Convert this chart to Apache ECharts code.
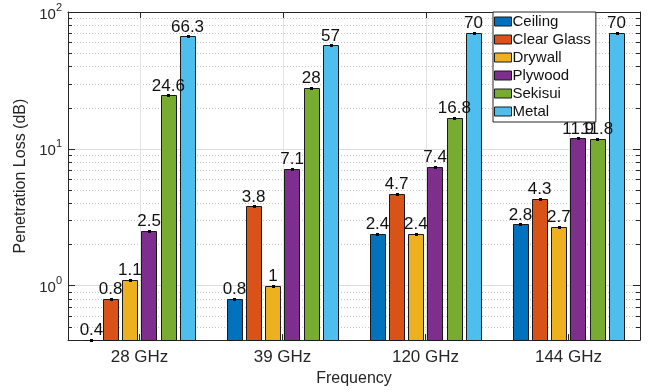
<!DOCTYPE html>
<html><head><meta charset="utf-8">
<script src="https://cdn.jsdelivr.net/npm/echarts@6/dist/echarts.min.js"></script>
<style>html,body{margin:0;padding:0;background:#fff}#c{width:660px;height:392px}</style>
</head><body><div id="c"></div>
<script>
const categories = ['28 GHz', '39 GHz', '120 GHz', '144 GHz'];
const ceiling = [0.4, 0.8, 2.4, 2.8];
const clearGlass = [0.8, 3.8, 4.7, 4.3];
const drywall = [1.1, 1, 2.4, 2.7];
const plywood = [2.5, 7.1, 7.4, 11.9];
const sekisui = [24.6, 28, 16.8, 11.8];
const metal = [66.3, 57, 70, 70];
const seriesNames = ['Ceiling', 'Clear Glass', 'Drywall', 'Plywood', 'Sekisui', 'Metal'];
const seriesColors = ['#0072BD', '#D95319', '#EDB120', '#7E2F8E', '#77AC30', '#4DBEEE'];
const minorValues = [0.5, 0.6, 0.7, 0.8, 0.9, 2, 3, 4, 5, 6, 7, 8, 9, 20, 30, 40, 50, 60, 70, 80, 90];
const yMin = 0.4, yMax = 100;

const FONT = '"Liberation Sans", Arial, Helvetica, sans-serif';
const TXT = '#262626';
const EDGE = '#1a1a1a';
const chart = echarts.init(document.getElementById('c'));
const allData = [ceiling, clearGlass, drywall, plywood, sekisui, metal];
const nSeries = seriesNames.length;
const catGap = 0.22, barGapRatio = 0.24;

function makeBarSeries(i) {
  return {
    name: seriesNames[i], type: 'custom', xAxisIndex: 0, yAxisIndex: 0, z: 3, silent: true,
    itemStyle: { color: seriesColors[i], borderColor: EDGE, borderWidth: 1 },
    data: allData[i].map((v, j) => [j, v]),
    encode: { x: 0, y: 1 },
    clip: false,
    renderItem(params, api) {
      const cs = params.coordSys;
      const j = api.value(0), v = api.value(1);
      const pt = api.coord([j, v]);
      const cw = cs.width / categories.length;
      const group = cw * (1 - catGap);
      const w = group / (nSeries + (nSeries - 1) * barGapRatio);
      const x0 = pt[0] - group / 2 + i * w * (1 + barGapRatio);
      const top = pt[1];
      const bottom = cs.y + cs.height;
      const xc = x0 + w / 2;
      return { type: 'group', children: [
        { type: 'rect', shape: { x: Math.round(x0) + 0.5, y: Math.round(top) + 0.5, width: Math.round(w), height: Math.max(0, Math.round(bottom) - Math.round(top)) },
          style: { fill: seriesColors[i], stroke: EDGE, lineWidth: 1 } },
        { type: 'rect', shape: { x: Math.round(xc) - 1, y: Math.round(top) - 1, width: 3, height: 3 },
          style: { fill: '#000' } },
        { type: 'text', z2: 10, style: { text: String(v), x: xc, y: top - 1, align: 'center', verticalAlign: 'bottom',
          fontFamily: FONT, fontSize: 17, fill: '#111' } }
      ]};
    }
  };
}

const minorSeries = {
  type: 'custom', xAxisIndex: 0, yAxisIndex: 0, z: 1, silent: true,
  data: minorValues.map(v => [0, v]),
  renderItem(params, api) {
    const cs = params.coordSys;
    const y = Math.round(api.coord([0, api.value(1)])[1]) + 0.5;
    return { type: 'group', children: [
      { type: 'line', shape: { x1: cs.x, y1: y, x2: cs.x + cs.width, y2: y },
        style: { stroke: '#c8c8c8', lineWidth: 1, lineDash: [1, 2] } },
      { type: 'line', shape: { x1: cs.x, y1: y, x2: cs.x + 4, y2: y }, style: { stroke: TXT, lineWidth: 1 } },
      { type: 'line', shape: { x1: cs.x + cs.width - 4, y1: y, x2: cs.x + cs.width, y2: y }, style: { stroke: TXT, lineWidth: 1 } }
    ]};
  }
};

const vSeries = {
  type: 'custom', xAxisIndex: 0, yAxisIndex: 0, z: 1, silent: true,
  data: categories.map((c, i) => [i, 1]),
  renderItem(params, api) {
    const cs = params.coordSys;
    const x = Math.round(api.coord([api.value(0), 1])[0]) + 0.5;
    return { type: 'group', children: [
      { type: 'line', shape: { x1: x, y1: cs.y, x2: x, y2: cs.y + cs.height }, style: { stroke: '#e3e3e3', lineWidth: 1 } },
      { type: 'line', shape: { x1: x, y1: cs.y, x2: x, y2: cs.y + 6 }, style: { stroke: TXT, lineWidth: 1 } }
    ]};
  }
};

function powLabel(v) {
  const e = Math.round(Math.log10(v));
  if (Math.abs(v - Math.pow(10, e)) > 1e-6 * v) return '';
  return '{b|10}{s|' + e + '}';
}

chart.setOption({
  animation: false,
  textStyle: { fontFamily: FONT, color: TXT },
  grid: { left: 68, right: 20, top: 12, bottom: 45, containLabel: false },
  legend: {
    orient: 'vertical', left: 493, top: 12,
    data: seriesNames,
    backgroundColor: '#fff', borderColor: TXT, borderWidth: 1,
    padding: [2, 5, 3, 1], itemGap: 3, itemWidth: 17, itemHeight: 9,
    icon: 'rect', selectedMode: false, z: 20,
    itemStyle: { borderColor: EDGE, borderWidth: 1 },
    textStyle: { fontFamily: FONT, fontSize: 15, color: '#111', lineHeight: 15, padding: [0, 0, 0, -4] }
  },
  xAxis: [
    { type: 'category', data: categories, position: 'bottom',
      name: 'Frequency', nameLocation: 'middle', nameGap: 27,
      nameTextStyle: { fontFamily: FONT, fontSize: 16, color: TXT },
      axisLine: { show: true, lineStyle: { color: TXT, width: 1 } },
      axisTick: { show: true, alignWithLabel: true, inside: true, length: 6, lineStyle: { color: TXT } },
      axisLabel: { fontFamily: FONT, fontSize: 17, color: TXT, margin: 9 },
      splitLine: { show: false } },
    { type: 'category', data: categories, position: 'top',
      axisLine: { show: true, lineStyle: { color: TXT, width: 1 } },
      axisTick: { show: false }, axisLabel: { show: false }, splitLine: { show: false } }
  ],
  yAxis: [
    { type: 'log', logBase: 10, min: yMin, max: yMax, position: 'left',
      name: 'Penetration Loss (dB)', nameLocation: 'middle', nameGap: 30,
      nameTextStyle: { fontFamily: FONT, fontSize: 16, color: TXT },
      axisLine: { show: true, lineStyle: { color: TXT, width: 1 } },
      axisTick: { show: true, inside: true, length: 7, lineStyle: { color: TXT } },
      axisLabel: { show: true, margin: 6, showMinLabel: false, formatter: powLabel,
        rich: { b: { fontFamily: FONT, fontSize: 15, color: TXT, verticalAlign: 'bottom' },
                s: { fontFamily: FONT, fontSize: 11, color: TXT, verticalAlign: 'top', padding: [0, 0, 9, 0] } } },
      splitLine: { show: true, lineStyle: { color: '#dedede', width: 1 } } },
    { type: 'log', logBase: 10, min: yMin, max: yMax, position: 'right',
      axisLine: { show: true, lineStyle: { color: TXT, width: 1 } },
      axisTick: { show: true, inside: true, length: 7, lineStyle: { color: TXT } },
      axisLabel: { show: false }, splitLine: { show: false } }
  ],
  series: [minorSeries, vSeries].concat(seriesNames.map((n, i) => makeBarSeries(i)))
});
</script></body></html>
